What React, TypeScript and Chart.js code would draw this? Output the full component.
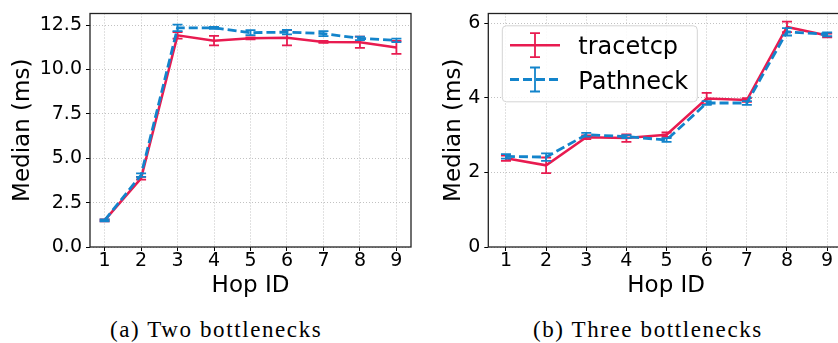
import React, { useEffect, useRef } from 'react';
import { Chart, registerables } from 'chart.js';

Chart.register(...registerables);

// ---------- data ----------
const hopIds = [1, 2, 3, 4, 5, 6, 7, 8, 9];
const seriesNames = ['tracetcp', 'Pathneck'];
const captions = ['(a) Two bottlenecks', '(b) Three bottlenecks'];

const twoTracetcp = [1.5, 3.87, 11.92, 11.62, 11.75, 11.78, 11.55, 11.53, 11.24];
const twoTracetcpErr = [0.05, 0.08, 0.18, 0.27, 0.05, 0.43, 0.05, 0.32, 0.36];
const twoPathneck = [1.5, 4.05, 12.34, 12.34, 12.07, 12.1, 12.02, 11.75, 11.64];
const twoPathneckErr = [0.05, 0.1, 0.18, 0.05, 0.14, 0.13, 0.14, 0.1, 0.1];

const threeTracetcp = [2.38, 2.19, 2.94, 2.92, 3.01, 3.98, 3.94, 5.9, 5.67];
const threeTracetcpErr = [0.07, 0.21, 0.05, 0.1, 0.06, 0.15, 0.05, 0.14, 0.05];
const threePathneck = [2.43, 2.41, 3.01, 2.96, 2.87, 3.86, 3.86, 5.77, 5.7];
const threePathneckErr = [0.06, 0.1, 0.05, 0.04, 0.05, 0.05, 0.05, 0.1, 0.05];

const twoYTicks = [0, 2.5, 5, 7.5, 10, 12.5];
const threeYTicks = [0, 2, 4, 6];

// ---------- styles ----------
const RED = '#E81B50';
const BLUE = '#1384CB';
const GRID = 'rgba(170,170,170,0.9)';
const FONT = 'DejaVu Sans';

const errorBarPlugin = {
  id: 'errorBars',
  afterDatasetDraw(chart: any, args: any) {
    const ds: any = chart.data.datasets[args.index];
    const errs: number[] | undefined = ds.errorBars;
    if (!errs) return;
    const ys = chart.scales.y;
    const ctx = chart.ctx;
    ctx.save();
    ctx.strokeStyle = ds.borderColor;
    ctx.lineWidth = 1.8;
    ctx.setLineDash([]);
    args.meta.data.forEach((pt: any, i: number) => {
      const v = ds.data[i].y;
      const e = errs[i];
      const y1 = ys.getPixelForValue(v - e);
      const y2 = ys.getPixelForValue(v + e);
      const x = pt.x;
      ctx.beginPath();
      ctx.moveTo(x, y1);
      ctx.lineTo(x, y2);
      ctx.moveTo(x - 5, y1);
      ctx.lineTo(x + 5, y1);
      ctx.moveTo(x - 5, y2);
      ctx.lineTo(x + 5, y2);
      ctx.stroke();
    });
    ctx.restore();
  },
};

const framePlugin = {
  id: 'frame',
  afterDatasetsDraw(chart: any) {
    const { ctx, chartArea: a } = chart;
    ctx.save();
    ctx.strokeStyle = '#222';
    ctx.lineWidth = 1.3;
    ctx.setLineDash([]);
    ctx.strokeRect(a.left, a.top, a.right - a.left, a.bottom - a.top);
    ctx.restore();
  },
};

const legendPlugin = {
  id: 'boxLegend',
  afterDraw(chart: any, _args: any, opts: any) {
    if (!opts || !opts.show) return;
    const { ctx, chartArea: a } = chart;
    const x = a.left + 14;
    const y = a.top + 12.3;
    const w = 195;
    const h = 76;
    ctx.save();
    ctx.beginPath();
    ctx.roundRect(x, y, w, h, 4);
    ctx.fillStyle = 'rgba(255,255,255,0.85)';
    ctx.fill();
    ctx.strokeStyle = '#d4d4d4';
    ctx.lineWidth = 1;
    ctx.stroke();
    const rows = [
      { cy: y + 19.4, base: y + 27.7 },
      { cy: y + 53.7, base: y + 62.7 },
    ];
    chart.data.datasets.forEach((ds: any, i: number) => {
      const r = rows[i];
      const x1 = x + 7.7;
      const x2 = x + 57.7;
      const xm = (x1 + x2) / 2;
      ctx.strokeStyle = ds.borderColor;
      ctx.lineWidth = ds.borderWidth;
      ctx.setLineDash(ds.borderDash || []);
      ctx.beginPath();
      ctx.moveTo(x1, r.cy);
      ctx.lineTo(x2, r.cy);
      ctx.stroke();
      ctx.setLineDash([]);
      ctx.lineWidth = 1.8;
      ctx.beginPath();
      ctx.moveTo(xm, r.cy - 12);
      ctx.lineTo(xm, r.cy + 12);
      ctx.moveTo(xm - 5, r.cy - 12);
      ctx.lineTo(xm + 5, r.cy - 12);
      ctx.moveTo(xm - 5, r.cy + 12);
      ctx.lineTo(xm + 5, r.cy + 12);
      ctx.stroke();
      ctx.fillStyle = '#000';
      ctx.font = `24px "${FONT}"`;
      ctx.textBaseline = 'alphabetic';
      ctx.textAlign = 'left';
      ctx.fillText(ds.label, x + 76, r.base);
    });
    ctx.restore();
  },
};

interface PanelOpts {
  t: number[];
  tErr: number[];
  p: number[];
  pErr: number[];
  xMin: number;
  xMax: number;
  yMax: number;
  yTicks: number[];
  yDecimals: number;
  yAxisWidth: number;
  yTitlePad: number;
  padRight: number;
  legend: boolean;
}

function makeChart(canvas: HTMLCanvasElement, o: PanelOpts) {
  const datasets: any[] = [
    {
      label: seriesNames[0],
      data: hopIds.map((x, i) => ({ x, y: o.t[i] })),
      errorBars: o.tErr,
      borderColor: RED,
      backgroundColor: RED,
      borderWidth: 2.5,
      borderDash: [],
      order: 1,
    },
    {
      label: seriesNames[1],
      data: hopIds.map((x, i) => ({ x, y: o.p[i] })),
      errorBars: o.pErr,
      borderColor: BLUE,
      backgroundColor: BLUE,
      borderWidth: 2.8,
      borderDash: [9, 4],
      order: 0,
    },
  ];
  return new Chart(canvas, {
    type: 'line',
    data: { datasets },
    options: {
      responsive: false,
      animation: false,
      layout: { padding: { left: 0, top: 5, right: o.padRight, bottom: 0 } },
      elements: {
        point: { radius: 0, hoverRadius: 0 },
        line: { tension: 0, fill: false },
      },
      plugins: {
        legend: { display: false },
        tooltip: { enabled: false },
        boxLegend: { show: o.legend },
      } as any,
      scales: {
        x: {
          type: 'linear',
          min: o.xMin,
          max: o.xMax,
          afterBuildTicks: (ax: any) => {
            ax.ticks = hopIds.map((v) => ({ value: v }));
          },
          afterFit: (ax: any) => {
            ax.height = 53;
          },
          grid: {
            color: GRID,
            lineWidth: 0.8,
            drawTicks: true,
            tickLength: 4,
            tickColor: '#000',
            tickWidth: 1,
          },
          border: { display: false, dash: [1, 2] },
          ticks: {
            font: { family: FONT, size: 19, lineHeight: 1 },
            color: '#000',
            padding: 0.5,
            maxRotation: 0,
            autoSkip: false,
            callback: (v: any) => String(v),
          },
          title: {
            display: true,
            text: 'Hop ID',
            font: { family: FONT, size: 23, lineHeight: 1 },
            color: '#000',
            padding: { top: 0, bottom: 2.5 },
          },
        },
        y: {
          type: 'linear',
          min: 0,
          max: o.yMax,
          afterBuildTicks: (ax: any) => {
            ax.ticks = o.yTicks.map((v) => ({ value: v }));
          },
          afterFit: (ax: any) => {
            ax.width = o.yAxisWidth;
          },
          grid: {
            color: GRID,
            lineWidth: 0.8,
            drawTicks: true,
            tickLength: 4,
            tickColor: '#000',
            tickWidth: 1,
          },
          border: { display: false, dash: [1, 2] },
          ticks: {
            font: { family: FONT, size: 19, lineHeight: 1 },
            color: '#000',
            padding: 4,
            autoSkip: false,
            callback: (v: any) => Number(v).toFixed(o.yDecimals),
          },
          title: {
            display: true,
            text: 'Median (ms)',
            font: { family: FONT, size: 23, lineHeight: 1 },
            color: '#000',
            padding: { top: o.yTitlePad, bottom: 0 },
          },
        },
      },
    } as any,
    plugins: [errorBarPlugin, framePlugin, legendPlugin],
  });
}

const captionStyle = (left: number): React.CSSProperties => ({
  position: 'absolute',
  left,
  top: 317.5,
  fontFamily: '"Liberation Serif", serif',
  fontSize: 23,
  lineHeight: '23px',
  letterSpacing: '1.6px',
  whiteSpace: 'nowrap',
  color: '#000',
});

export default function App() {
  const leftRef = useRef<HTMLCanvasElement>(null);
  const rightRef = useRef<HTMLCanvasElement>(null);

  useEffect(() => {
    const a = makeChart(leftRef.current as HTMLCanvasElement, {
      t: twoTracetcp,
      tErr: twoTracetcpErr,
      p: twoPathneck,
      pErr: twoPathneckErr,
      xMin: 0.6,
      xMax: 9.4,
      yMax: 13.15,
      yTicks: twoYTicks,
      yDecimals: 1,
      yAxisWidth: 90,
      yTitlePad: 11.8,
      padRight: 9,
      legend: false,
    });
    const b = makeChart(rightRef.current as HTMLCanvasElement, {
      t: threeTracetcp,
      tErr: threeTracetcpErr,
      p: threePathneck,
      pErr: threePathneckErr,
      xMin: 0.56,
      xMax: 9.42,
      yMax: 6.26,
      yTicks: threeYTicks,
      yDecimals: 0,
      yAxisWidth: 68.3,
      yTitlePad: 22.5,
      padRight: 6,
      legend: true,
    });
    return () => {
      a.destroy();
      b.destroy();
    };
  }, []);

  return (
    <div
      style={{
        position: 'fixed',
        left: 0,
        top: 0,
        width: 838,
        height: 343,
        overflow: 'hidden',
        background: '#fff',
      }}
    >
      <canvas ref={leftRef} width={420} height={300} style={{ position: 'absolute', left: 0, top: 0 }} />
      <canvas ref={rightRef} width={430} height={300} style={{ position: 'absolute', left: 420, top: 0 }} />
      <div style={captionStyle(110)}>{captions[0]}</div>
      <div style={captionStyle(533)}>{captions[1]}</div>
    </div>
  );
}
